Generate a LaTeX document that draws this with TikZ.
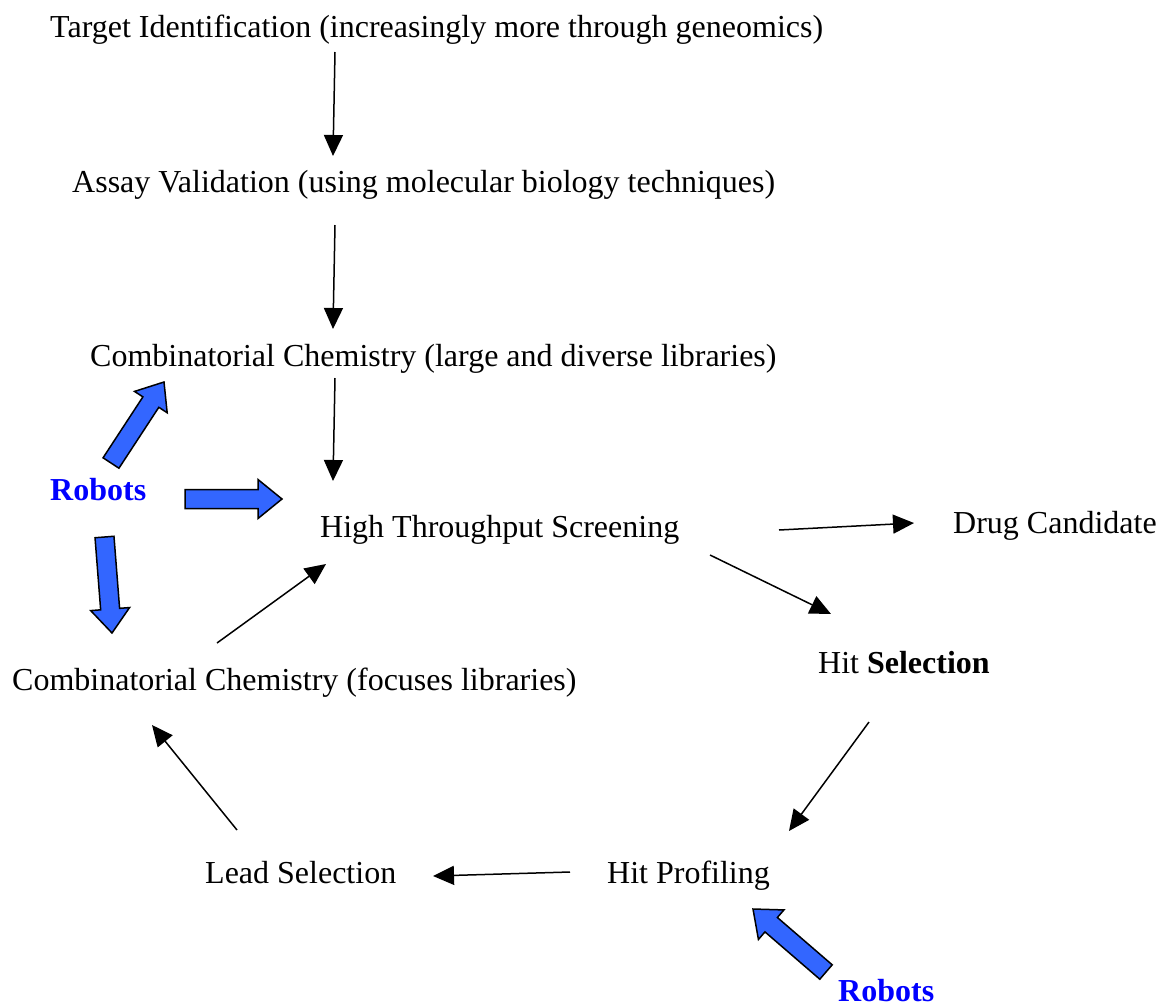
\documentclass[tikz,border=0pt]{standalone}
\usepackage{fontspec}
\setmainfont{Liberation Serif}
\usetikzlibrary{arrows.meta,calc}
\definecolor{robotblue}{RGB}{0,0,255}
\definecolor{blockblue}{RGB}{51,102,255}
\newcommand\myblockarrow[3]{%
  \coordinate (#3-c) at ($(#2)!24pt!(#1)$);
  \draw[blockarrow] ($(#1)!9.5pt!90:(#2)$) -- ($(#3-c)!9.5pt!90:(#2)$) -- ($(#3-c)!19.5pt!90:(#2)$)
    -- (#2) -- ($(#3-c)!19.5pt!-90:(#2)$) -- ($(#3-c)!9.5pt!-90:(#2)$) -- ($(#1)!9.5pt!-90:(#2)$) -- cycle;}
\begin{document}
\begin{tikzpicture}[x=1pt,y=-1pt,
  lbl/.style={anchor=base west,inner sep=0pt,font=\fontsize{32}{38}\selectfont},
  robot/.style={anchor=base west,inner sep=0pt,text=robotblue,font=\fontsize{32}{38}\selectfont\bfseries},
  conn/.style={line width=1.5pt,-{Triangle[length=21pt,width=19pt]}},
  blockarrow/.style={draw=black,line width=1.5pt,fill=blockblue,line join=miter}]
\useasboundingbox (0,0) rectangle (1159,1007);

\node[lbl] (target) at (50,37) {Target Identification (increasingly more through geneomics)};
\node[lbl] (assay) at (72,192) {Assay Validation (using molecular biology techniques)};
\node[lbl] (comblarge) at (90,366) {Combinatorial Chemistry (large and diverse libraries)};
\node[robot] (robots1) at (50,500) {Robots};
\node[lbl] (hts) at (320,537) {High Throughput Screening};
\node[lbl] (drug) at (953,533) {Drug Candidate};
\node[lbl] (combfocus) at (12,690) {Combinatorial Chemistry (focuses libraries)};
\node[lbl] (hitsel) at (818,673) {Hit \textbf{Selection}};
\node[lbl] (lead) at (205,883) {Lead Selection};
\node[lbl] (hitprof) at (607,883) {Hit Profiling};
\node[robot] (robots2) at (838,1001) {Robots};

% connector end points
\coordinate (t-s) at (335,52);   \coordinate (a-n) at (333,156);
\coordinate (a-s) at (335,225);  \coordinate (cl-n) at (333,329);
\coordinate (cl-s) at (335,378); \coordinate (h-n) at (333,481);
\coordinate (h-e) at (779,530);  \coordinate (d-w) at (914,523);
\coordinate (h-se) at (710,555); \coordinate (hs-n) at (831,614);
\coordinate (hs-s) at (869,722); \coordinate (hp-n) at (789,831);
\coordinate (hp-w) at (570,872); \coordinate (l-e) at (433,876);
\coordinate (l-n) at (237,830);  \coordinate (cf-se) at (152,725);
\coordinate (cf-ne) at (217,643); \coordinate (h-sw) at (326,564);

\draw[conn] (t-s) -- (a-n);
\draw[conn] (a-s) -- (cl-n);
\draw[conn] (cl-s) -- (h-n);
\draw[conn] (h-e) -- (d-w);
\draw[conn] (h-se) -- (hs-n);
\draw[conn] (hs-s) -- (hp-n);
\draw[conn] (hp-w) -- (l-e);
\draw[conn] (l-n) -- (cf-se);
\draw[conn] (cf-ne) -- (h-sw);

% robot block arrows
\coordinate (ra-b) at (111,463); \coordinate (ra-t) at (164,382);
\coordinate (rb-b) at (185,499); \coordinate (rb-t) at (282,499);
\coordinate (rc-b) at (104.5,537); \coordinate (rc-t) at (112,633);
\coordinate (rd-b) at (826,972); \coordinate (rd-t) at (753,909);
\myblockarrow{ra-b}{ra-t}{ra}
\myblockarrow{rb-b}{rb-t}{rb}
\myblockarrow{rc-b}{rc-t}{rc}
\myblockarrow{rd-b}{rd-t}{rd}
\end{tikzpicture}
\end{document}
